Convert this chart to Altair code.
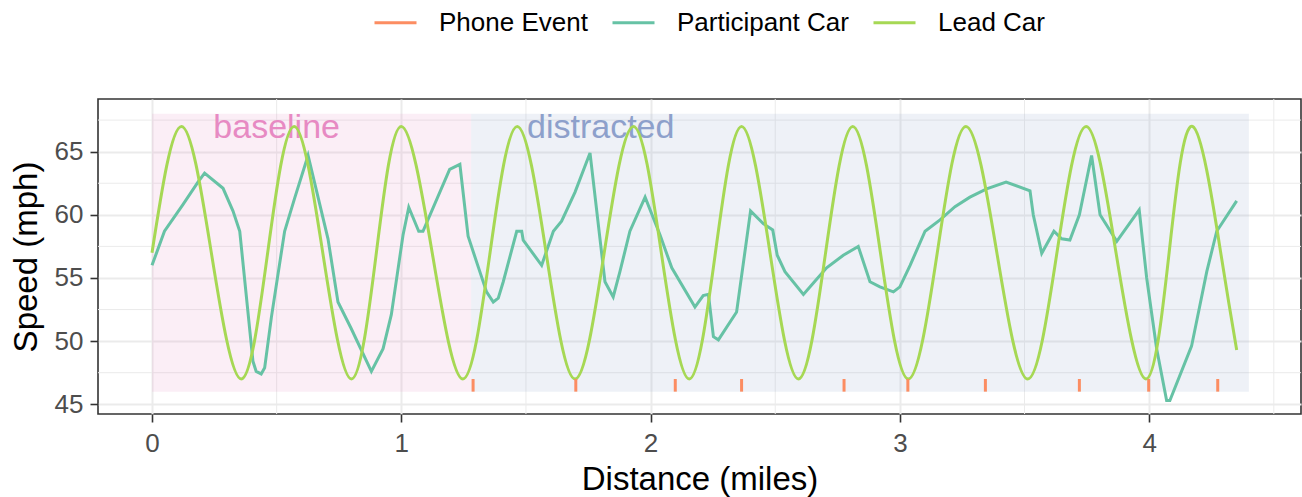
import altair as alt
import pandas as pd

# ---------------- data ----------------
series_names = ["Phone Event", "Participant Car", "Lead Car"]
series_colors = ["#fc8d62", "#66c2a5", "#a6d854"]

phase_names = ["baseline", "distracted"]
phase_start = [0.0, 1.28]
phase_end = [1.28, 4.40]
phase_label_x = [0.5, 1.8]
phase_colors = ["#e78ac3", "#8da0cb"]

phone_events = [1.288, 1.700, 2.099, 2.365, 2.776, 3.032, 3.343, 3.720, 3.998, 4.275]

participant_dist = [0.000, 0.050, 0.124, 0.185, 0.211, 0.285, 0.325, 0.352, 0.405, 0.418,
                    0.438, 0.452, 0.479, 0.532, 0.572, 0.626, 0.706, 0.746, 0.799, 0.880,
                    0.927, 0.960, 1.007, 1.030, 1.070, 1.087, 1.194, 1.235, 1.268, 1.310,
                    1.342, 1.369, 1.389, 1.409, 1.463, 1.483, 1.489, 1.563, 1.610, 1.643,
                    1.697, 1.757, 1.817, 1.850, 1.877, 1.917, 1.978, 2.038, 2.085, 2.178,
                    2.211, 2.232, 2.252, 2.272, 2.345, 2.401, 2.452, 2.490, 2.508, 2.539,
                    2.613, 2.653, 2.706, 2.773, 2.833, 2.880, 2.920, 2.974, 3.000, 3.041,
                    3.101, 3.161, 3.221, 3.281, 3.348, 3.426, 3.522, 3.535, 3.569, 3.618,
                    3.649, 3.682, 3.720, 3.769, 3.803, 3.870, 3.960, 3.990, 4.030, 4.070,
                    4.083, 4.170, 4.231, 4.271, 4.351]
participant_speed = [56.0, 58.7, 60.8, 62.6, 63.3, 62.1, 60.3, 58.7, 48.4, 47.6,
                     47.4, 47.9, 51.9, 58.7, 61.3, 64.7, 58.1, 53.1, 51.0, 47.6,
                     49.4, 52.1, 58.4, 60.6, 58.7, 58.7, 63.6, 64.0, 58.3, 55.8,
                     53.9, 53.1, 53.4, 54.7, 58.7, 58.7, 58.0, 56.0, 58.7, 59.5,
                     61.8, 64.9, 54.7, 53.5, 55.5, 58.7, 61.4, 58.4, 55.8, 52.7,
                     53.6, 53.7, 50.35, 50.1, 52.3, 60.3, 59.3, 58.8, 56.8, 55.5,
                     53.7, 54.6, 55.8, 56.8, 57.5, 54.7, 54.3, 53.9, 54.3, 56.0,
                     58.7, 59.6, 60.65, 61.4, 62.05, 62.6, 61.9, 60.0, 56.95, 58.7,
                     58.1, 58.0, 60.0, 64.7, 60.0, 57.9, 60.4, 55.0, 49.4, 45.3,
                     45.3, 49.6, 55.5, 58.7, 61.1]

lead_dist = [0.000, 0.118, 0.238, 0.358, 0.464, 0.570, 0.685, 0.800, 0.900, 1.000,
             1.124, 1.247, 1.356, 1.465, 1.581, 1.697, 1.814, 1.931, 2.043, 2.155,
             2.260, 2.365, 2.479, 2.593, 2.702, 2.811, 2.922, 3.034, 3.150, 3.265,
             3.389, 3.513, 3.630, 3.747, 3.867, 3.987, 4.080, 4.174, 4.287, 4.351]
lead_speed = [57, 67, 57, 47, 57, 67, 57, 47, 57, 67,
              57, 47, 57, 67, 57, 47, 57, 67, 57, 47,
              57, 67, 57, 47, 57, 67, 57, 47, 57, 67,
              57, 47, 57, 67, 57, 47, 57, 67, 57, 49.3]

x_major = [0, 1, 2, 3, 4]
x_minor = [0.5, 1.5, 2.5, 3.5, 4.5]
y_major = [45, 50, 55, 60, 65]
y_minor = [47.5, 52.5, 57.5, 62.5, 67.5]

# ---------------- tables ----------------
part_df = pd.DataFrame({"dist": participant_dist, "speed": participant_speed,
                        "series": "Participant Car"})
lead_df = pd.DataFrame({"dist": lead_dist, "speed": lead_speed, "series": "Lead Car"})
phone_df = pd.DataFrame({"dist": phone_events, "series": "Phone Event"})
phase_df = pd.DataFrame({"phase": phase_names, "start": phase_start, "end": phase_end,
                         "label_x": phase_label_x})
xminor_df = pd.DataFrame({"dist": x_minor})
yminor_df = pd.DataFrame({"speed": y_minor})

FONT = "Liberation Sans"
xs = alt.Scale(domain=[-0.2166, 4.609], nice=False, zero=False)
ys = alt.Scale(domain=[44.23, 69.17], nice=False, zero=False)

color_scale = alt.Scale(domain=series_names, range=series_colors)
fill_scale = alt.Scale(domain=phase_names, range=phase_colors)

legend = alt.Legend(title=None, orient="none", legendX=275, legendY=-99,
                    direction="horizontal", symbolType="stroke", symbolSize=1764,
                    symbolStrokeWidth=3, labelFontSize=26, labelFont=FONT,
                    labelColor="black", labelOffset=21, labelLimit=400,
                    columnPadding=18, padding=0)

x_axis = alt.Axis(values=x_major, grid=True, gridColor="#ebebeb", gridWidth=2,
                  domain=False, tickColor="#333333", tickWidth=1.6, tickSize=8,
                  labelFontSize=26, labelFont=FONT, labelColor="#4d4d4d",
                  labelPadding=8, labelFlush=False, title="Distance (miles)",
                  titleFontSize=33, titleFont=FONT, titleFontWeight="normal",
                  titleColor="black", titleY=75, titleBaseline="alphabetic")
y_axis = alt.Axis(values=y_major, grid=True, gridColor="#ebebeb", gridWidth=2,
                  domain=False, tickColor="#333333", tickWidth=1.6, tickSize=8,
                  labelFontSize=26, labelFont=FONT, labelColor="#4d4d4d",
                  labelPadding=7, labelFlush=False, title="Speed (mph)",
                  titleFontSize=33, titleFont=FONT, titleFontWeight="normal",
                  titleColor="black", titleX=-62, titleY=157.5,
                  titleBaseline="alphabetic")

minor_x = alt.Chart(xminor_df).mark_rule(color="#ebebeb", strokeWidth=1).encode(
    x=alt.X("dist:Q", scale=xs, axis=x_axis))
minor_y = alt.Chart(yminor_df).mark_rule(color="#ebebeb", strokeWidth=1).encode(
    y=alt.Y("speed:Q", scale=ys, axis=y_axis))

rects = alt.Chart(phase_df).mark_rect(opacity=0.15).encode(
    x=alt.X("start:Q", scale=xs, axis=x_axis),
    x2="end:Q",
    y=alt.Y(datum=46, scale=ys, axis=y_axis),
    y2=alt.Y2(datum=68),
    fill=alt.Fill("phase:N", scale=fill_scale, legend=None))

labels = alt.Chart(phase_df).mark_text(fontSize=34, font=FONT, align="center",
                                       baseline="alphabetic").encode(
    x=alt.X("label_x:Q", scale=xs, axis=x_axis),
    y=alt.Y(datum=66.06, scale=ys, axis=y_axis),
    text="phase:N",
    fill=alt.Fill("phase:N", scale=fill_scale, legend=None))

part_line = alt.Chart(part_df).mark_line(strokeWidth=3, interpolate="linear").encode(
    x=alt.X("dist:Q", scale=xs, axis=x_axis),
    y=alt.Y("speed:Q", scale=ys, axis=y_axis),
    color=alt.Color("series:N", scale=color_scale, legend=legend))

lead_line = alt.Chart(lead_df).mark_line(strokeWidth=3, interpolate="natural").encode(
    x=alt.X("dist:Q", scale=xs, axis=x_axis),
    y=alt.Y("speed:Q", scale=ys, axis=y_axis),
    color=alt.Color("series:N", scale=color_scale, legend=legend))

phone = alt.Chart(phone_df).mark_rule(strokeWidth=3).encode(
    x=alt.X("dist:Q", scale=xs, axis=x_axis),
    y=alt.Y(datum=46, scale=ys, axis=y_axis),
    y2=alt.Y2(datum=47),
    color=alt.Color("series:N", scale=color_scale, legend=legend))

chart = alt.layer(minor_x, minor_y, rects, labels, part_line, lead_line, phone).properties(
    width=1203, height=315,
    padding={"left": 98, "top": 99, "right": 1, "bottom": 83},
    autosize=alt.AutoSizeParams(type="none"),
    background="white",
).configure_view(stroke="#333333", strokeWidth=1.6)

chart.save("out.html", embed_options={"renderer": "svg", "actions": False})
